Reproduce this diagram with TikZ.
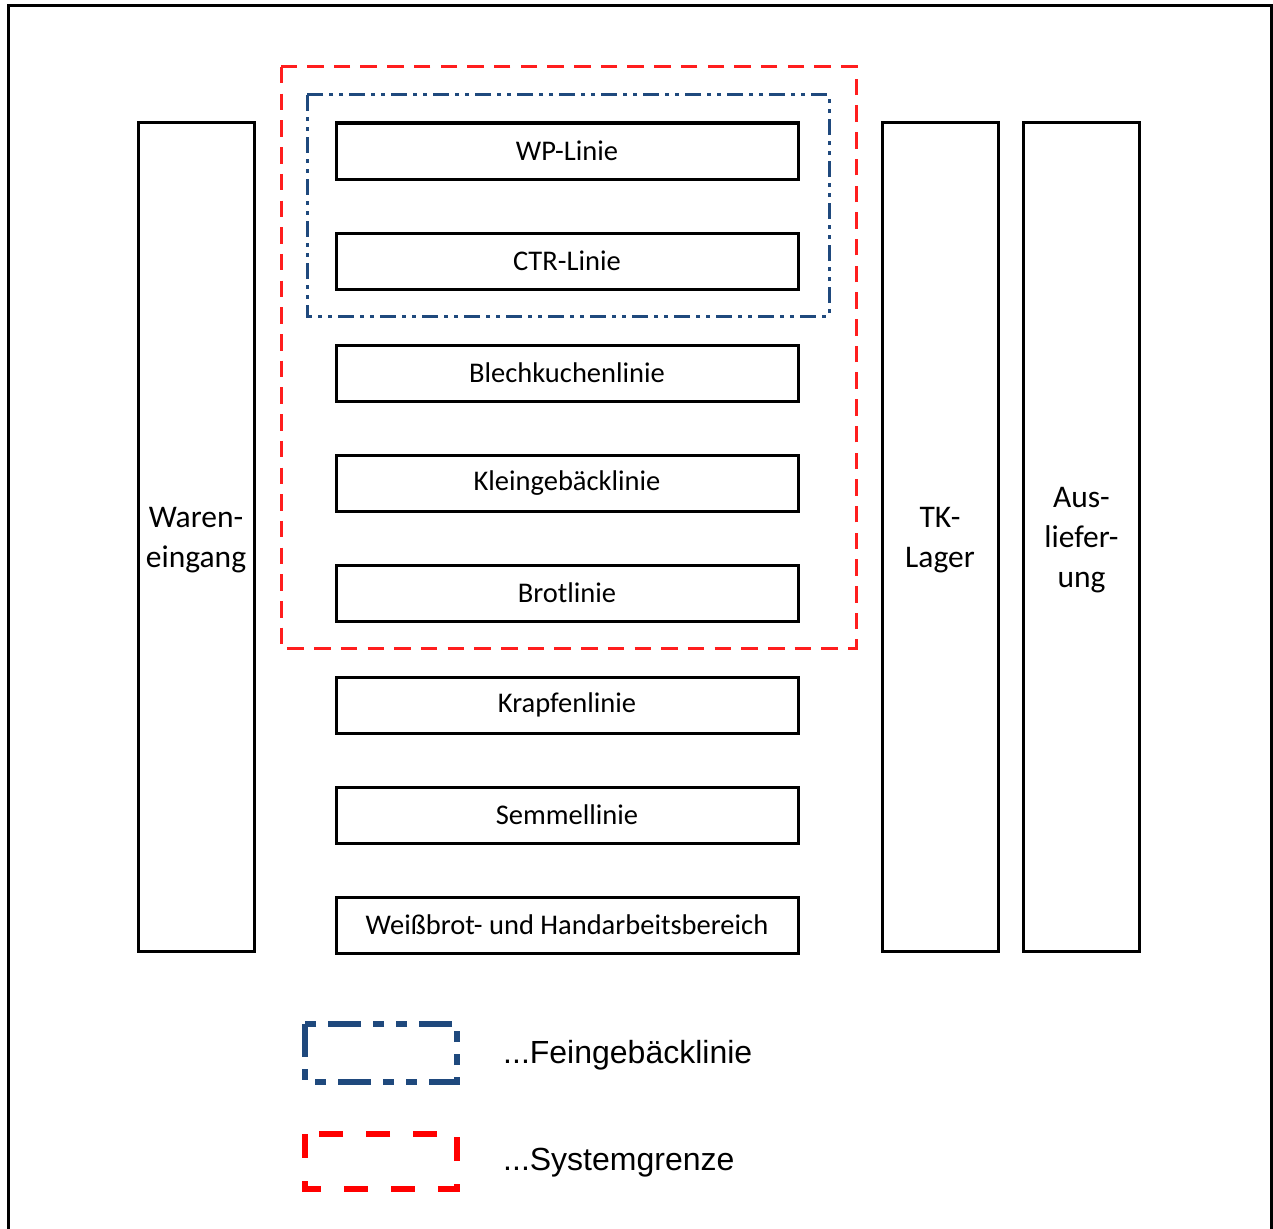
\documentclass[tikz,border=0pt]{standalone}
\usepackage{fontspec}
\setmainfont{Carlito}
\newfontfamily\arialf{Liberation Sans}
\begin{document}
\begin{tikzpicture}[x=1pt,y=-1pt,
  linebox/.style={draw,line width=3pt,minimum width=462pt,minimum height=56pt,inner sep=0pt,font=\fontsize{28.5}{32}\selectfont},
  sidebox/.style={draw,line width=3pt,minimum width=116pt,minimum height=828pt,inner sep=0pt},
  sidetext/.style={align=center,inner sep=0pt,yshift=-3pt,font=\fontsize{31.5}{40}\selectfont},
  sysgrenze/.style={draw={rgb,255:red,255;green,30;blue,30},line width=3pt,dash pattern=on 16.5pt off 10.2pt},
  feinline/.style={draw={rgb,255:red,31;green,73;blue,125},line width=3pt,dash pattern=on 16pt off 6pt on 4pt off 6pt on 4pt off 6pt},
  legfein/.style={draw={rgb,255:red,31;green,73;blue,125},line width=6pt,dash pattern=on 33pt off 12pt on 11pt off 12pt on 11pt off 12pt},
  legsys/.style={draw={rgb,255:red,255;green,0;blue,0},line width=6pt,dash pattern=on 24pt off 23pt},
  legtext/.style={anchor=west,inner sep=0pt,font=\arialf\fontsize{32}{36}\selectfont}
]
\useasboundingbox (0,0) rectangle (1273,1228);
\draw[line width=3pt] (8,1240) -- (8,6) -- (1271,6) -- (1271,1240);

\node[sidebox,label={[sidetext]center:Waren-\\eingang}] (we) at (196,537) {};
\node[sidebox,label={[sidetext]center:TK-\\Lager}] (tk) at (940,537) {};
\node[sidebox,label={[sidetext]center:Aus-\\liefer-\\ung}] (al) at (1081.5,537) {};

\node[linebox] (wp) at (567,151) {WP-Linie};
\node[linebox] (ctr) at (567,261) {CTR-Linie};
\node[linebox] (blech) at (567,373) {Blechkuchenlinie};
\node[linebox] (klein) at (567,483) {Kleingebäcklinie};
\node[linebox] (brot) at (567,593) {Brotlinie};
\node[linebox] (krapfen) at (567,705) {Krapfenlinie};
\node[linebox] (semmel) at (567,815) {Semmellinie};
\node[linebox] (weiss) at (567,925) {Weißbrot- und Handarbeitsbereich};

\draw[sysgrenze] (281,67) rectangle (856,648);
\draw[feinline] (307,95) rectangle (829,316);

\draw[legfein] (305,1024) rectangle (457,1082);
\draw[legsys] (305,1134) rectangle (457,1189);
\node[legtext] (lf) at (503,1055) {...Feingebäcklinie};
\node[legtext] (ls) at (503,1163) {...Systemgrenze};
\end{tikzpicture}
\end{document}
